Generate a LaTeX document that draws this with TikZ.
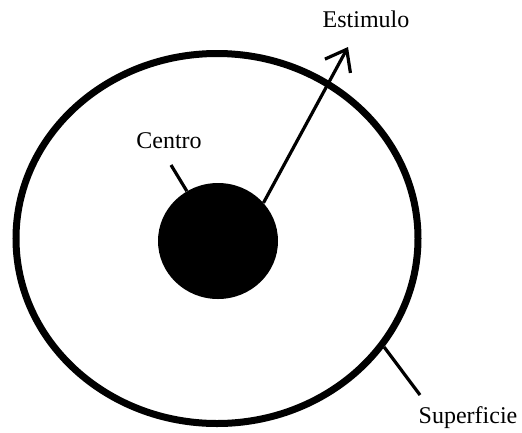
\documentclass[tikz,border=0pt]{standalone}
\usepackage{fontspec}
\setmainfont{Liberation Serif}
\usetikzlibrary{shapes.geometric,arrows.meta}
\begin{document}
\begin{tikzpicture}[x=1pt,y=-1pt,
  lbl/.style={anchor=base,inner sep=0pt,font=\fontsize{24}{28}\selectfont},
  leader/.style={line width=3.2pt}]
\useasboundingbox (0,0) rectangle (522,432);
\node[ellipse,draw,line width=7pt,minimum width=402pt,minimum height=370pt,inner sep=0pt] (cell) at (217,238.5) {};
\node[ellipse,fill=black,minimum width=120pt,minimum height=116pt,inner sep=0pt] (core) at (218,241) {};
\node[lbl] (est) at (366,27) {Estimulo};
\node[lbl] (cen) at (169,148) {Centro};
\node[lbl] (sup) at (468,423) {Superficie};
\coordinate (tip) at (348,47);
\coordinate (cenend) at (171,165);
\coordinate (supend) at (420,395);
\draw[leader,-{Straight Barb[length=19pt,width=29pt]}] (core.40) -- (tip);
\draw[leader] (cenend) -- (core.122);
\draw[leader] (cell.-33) -- (supend);
\end{tikzpicture}
\end{document}
